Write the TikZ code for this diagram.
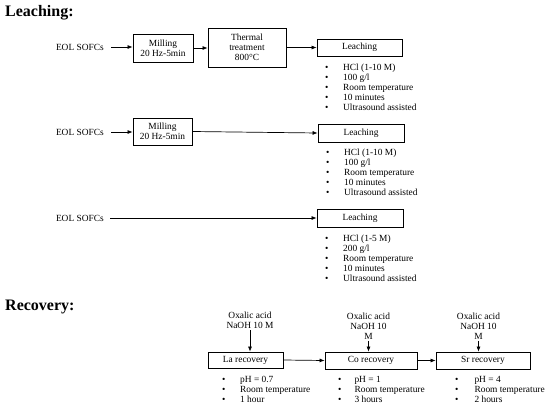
\documentclass[tikz,border=0pt]{standalone}
\usepackage{fontspec}
\setmainfont{Liberation Serif}
\usetikzlibrary{arrows.meta}

\newcommand{\itm}[1][18pt]{\makebox[#1][l]{\textbullet}}

\tikzset{
  stepbox/.style={draw, line width=0.8pt, inner sep=1pt, align=center},
  props/.style={anchor=north west, align=left, inner sep=0pt},
  flow/.style={-{Latex[length=5pt,width=4pt]}, line width=0.7pt},
  heading/.style={anchor=west, inner sep=0pt, font=\fontsize{16}{18}\selectfont\bfseries}
}

\begin{document}
\begin{tikzpicture}[x=1pt, y=-1pt, every node/.style={font=\fontsize{9.4}{10}\selectfont}]
\useasboundingbox (0,0) rectangle (550,410);

% leaching
\node[heading] (leachtitle) at (5,13) {Leaching:};

% route 1: milling, thermal treatment, leaching
\node[anchor=east, inner sep=0pt] (eol1) at (104,47) {EOL SOFCs};
\node[stepbox, minimum width=60pt, minimum height=28pt] (mill1) at (163,48) {Milling\\20 Hz-5min};
\node[stepbox, minimum width=78pt, minimum height=39pt] (therm) at (247,47.5) {Thermal\\treatment\\800°C};
\node[stepbox, minimum width=85pt, minimum height=17pt] (leach1) at (359.5,47.5) {Leaching};
\node[props] (list1) at (325,63.5) {\itm HCl (1-10 M)\\ \itm 100 g/l\\ \itm Room temperature\\ \itm 10 minutes\\ \itm Ultrasound assisted};
\draw[flow, shorten <=7pt] (eol1.east) -- (eol1.east -| mill1.west);
\draw[flow] (mill1.east) -- (mill1.east -| therm.west);
\draw[flow] (therm.east) -- (leach1.west);

% route 2: milling, leaching
\node[anchor=east, inner sep=0pt] (eol2) at (104,132) {EOL SOFCs};
\node[stepbox, minimum width=59pt, minimum height=27pt] (mill2) at (162.5,131.5) {Milling\\20 Hz-5min};
\node[stepbox, minimum width=86pt, minimum height=18pt] (leach2) at (361,133) {Leaching};
\node[props] (list2) at (326,148.5) {\itm HCl (1-10 M)\\ \itm 100 g/l\\ \itm Room temperature\\ \itm 10 minutes\\ \itm Ultrasound assisted};
\draw[flow, shorten <=7pt] (eol2.east) -- (eol2.east -| mill2.west);
\draw[flow] (mill2.east) -- (leach2.west);

% route 3: direct leaching
\node[anchor=east, inner sep=0pt] (eol3) at (104,218) {EOL SOFCs};
\node[stepbox, minimum width=86pt, minimum height=18pt] (leach3) at (360,218) {Leaching};
\node[props] (list3) at (325,234.5) {\itm HCl (1-5 M)\\ \itm 200 g/l\\ \itm Room temperature\\ \itm 10 minutes\\ \itm Ultrasound assisted};
\draw[flow, shorten <=6pt] (eol3.east) -- (leach3.west);

% recovery
\node[heading] (rectitle) at (5,307) {Recovery:};

\node[stepbox, minimum width=75pt, minimum height=16pt] (la) at (245.5,360) {La recovery};
\node[stepbox, minimum width=92pt, minimum height=17pt] (co) at (371,360.5) {Co recovery};
\node[stepbox, minimum width=94pt, minimum height=17pt] (sr) at (483,360.5) {Sr recovery};

\node[align=center, inner sep=1pt] (ox1) at (250,320.5) {Oxalic acid\\NaOH 10 M};
\node[align=center, inner sep=1pt] (ox2) at (368.5,326.5) {Oxalic acid\\NaOH 10\\M};
\node[align=center, inner sep=1pt] (ox3) at (478.5,326.5) {Oxalic acid\\NaOH 10\\M};

\draw[flow] (ox1.south) -- (ox1.south |- la.north);
\draw[flow] (ox2.south) -- (ox2.south |- co.north);
\draw[flow] (ox3.south) -- (ox3.south |- sr.north);
\draw[flow] (la.east) -- (co.west);
\draw[flow] (co.east) -- (sr.west);

\node[props] (lalist) at (222,376.5) {\itm pH = 0.7\\ \itm Room temperature\\ \itm 1 hour};
\node[props] (colist) at (338,376.5) {\itm[14pt] pH = 1\\ \itm[14pt] Room temperature\\ \itm[14pt] 3 hours};
\node[props] (srlist) at (455,376.5) {\itm[17pt] pH = 4\\ \itm[17pt] Room temperature\\ \itm[17pt] 2 hours};
\end{tikzpicture}
\end{document}
